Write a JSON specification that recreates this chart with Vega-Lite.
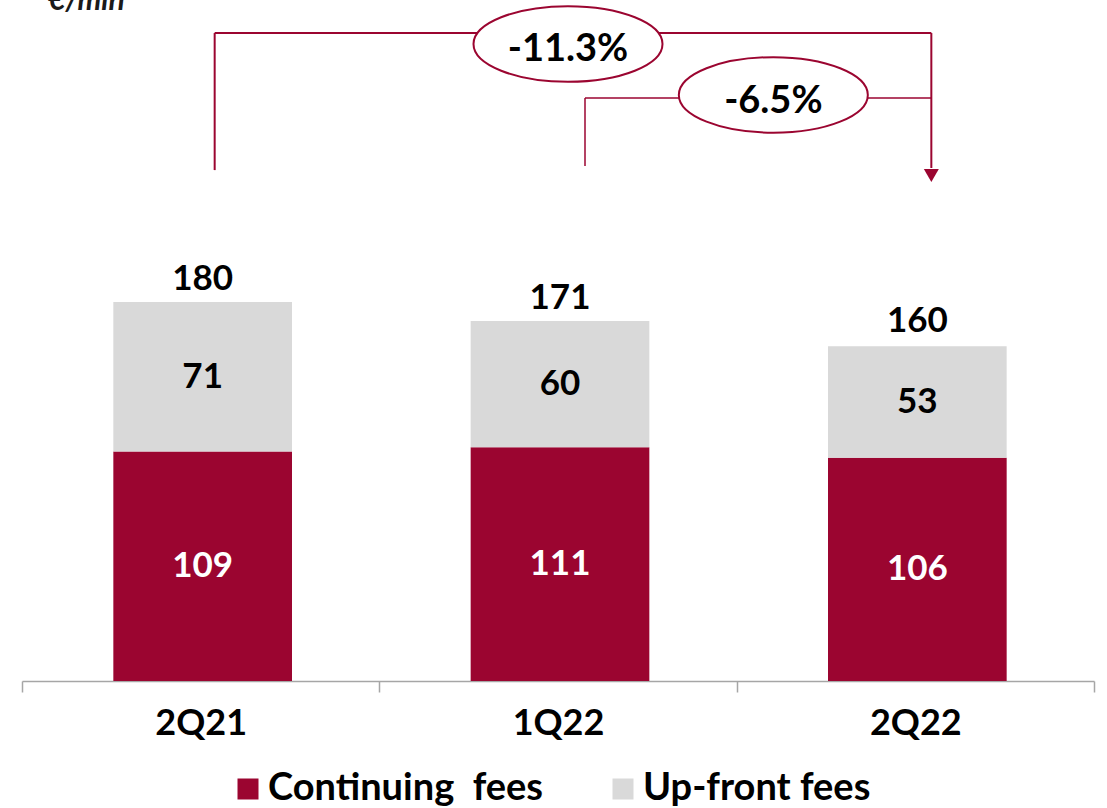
{
  "$schema": "https://vega.github.io/schema/vega-lite/v6.json",
  "autosize": "none",
  "width": 1072,
  "height": 681,
  "padding": {"left": 22, "top": 0, "right": 13, "bottom": 127},
  "background": "white",
  "config": {"view": {"stroke": null}, "font": "Lato"},
  "title": {"text": "€/mln", "anchor": "start", "frame": "group", "orient": "top", "offset": 0, "baseline": "alphabetic", "dx": 26, "dy": 40, "fontSize": 30, "fontStyle": "italic", "fontWeight": "bold", "font": "Lato", "color": "#1a1a1a"},
  "datasets": {
    "fees": [
      {"quarter": "2Q21", "series": "Continuing  fees", "value": 109},
      {"quarter": "2Q21", "series": "Up-front fees", "value": 71},
      {"quarter": "1Q22", "series": "Continuing  fees", "value": 111},
      {"quarter": "1Q22", "series": "Up-front fees", "value": 60},
      {"quarter": "2Q22", "series": "Continuing  fees", "value": 106},
      {"quarter": "2Q22", "series": "Up-front fees", "value": 53}
    ],
    "totals": [
      {"quarter": "2Q21", "total": 180},
      {"quarter": "1Q22", "total": 171},
      {"quarter": "2Q22", "total": 160}
    ],
    "changes": [
      {"from": "2Q21", "to": "2Q22", "label": "-11.3%", "top": 307.8, "low": 242.7, "end": 243.7, "tip": 240.1, "bubble": 302.6},
      {"from": "1Q22", "to": "2Q22", "label": "-6.5%", "top": 277.0, "low": 244.6, "end": 243.7, "tip": 240.1, "bubble": 278.4}
    ]
  },
  "encoding": {
    "x": {
      "field": "quarter", "type": "nominal", "sort": ["2Q21", "1Q22", "2Q22"],
      "scale": {"domain": ["2Q21", "1Q22", "2Q22"], "paddingInner": 0, "paddingOuter": 0},
      "axis": {"title": null, "tickBand": "extent", "domainColor": "#a6a6a6", "tickColor": "#a6a6a6", "tickSize": 11, "domainWidth": 1.5, "tickWidth": 1.5, "labelFontSize": 36, "labelFont": "Lato", "labelFontWeight": "bold", "labelColor": "#000000", "labelPadding": 14, "labelAngle": 0}
    }
  },
  "layer": [
    {
      "data": {"name": "fees"},
      "mark": {"type": "bar", "width": {"band": 0.5}, "xOffset": 2},
      "encoding": {
        "y": {"field": "value", "type": "quantitative", "stack": "zero", "scale": {"domain": [0, 323.5], "nice": false}, "axis": null},
        "color": {"field": "series", "type": "nominal", "scale": {"domain": ["Continuing  fees", "Up-front fees"], "range": ["#9b0530", "#d9d9d9"]},
          "legend": {"title": null, "orient": "none", "direction": "horizontal", "legendX": 207, "legendY": 770, "symbolType": "square", "symbolSize": 441, "symbolStrokeWidth": 0, "labelFontSize": 38, "labelFont": "Lato", "labelFontWeight": "bold", "labelColor": "#000000", "labelOffset": 1, "columnPadding": 60, "labelLimit": 400, "labelExpr": "datum.label === 'Continuing  fees' ? 'Continuing\u00a0 fees' : datum.label"}},
        "order": {"field": "series", "sort": "ascending"}
      }
    },
    {
      "data": {"name": "fees"},
      "transform": [
        {"stack": "value", "groupby": ["quarter"], "sort": [{"field": "series", "order": "ascending"}], "as": ["v0", "v1"]},
        {"calculate": "(datum.v0 + datum.v1) / 2", "as": "mid"}
      ],
      "mark": {"type": "text", "fontSize": 35, "fontWeight": "bold", "font": "Lato", "baseline": "middle", "xOffset": 2},
      "encoding": {
        "y": {"field": "mid", "type": "quantitative"},
        "text": {"field": "value", "type": "quantitative"},
        "color": {"condition": {"test": "datum.series === 'Up-front fees'", "value": "#000000"}, "value": "#ffffff"}
      }
    },
    {
      "data": {"name": "totals"},
      "mark": {"type": "text", "fontSize": 35, "fontWeight": "bold", "font": "Lato", "baseline": "middle", "dy": -23, "xOffset": 2, "color": "#000000"},
      "encoding": {
        "y": {"field": "total", "type": "quantitative"},
        "text": {"field": "total", "type": "quantitative"}
      }
    },
    {
      "data": {"name": "changes"},
      "transform": [{"filter": "datum.from === '2Q21'"}],
      "mark": {"type": "rule", "color": "#9b0530", "strokeWidth": 2, "xOffset": 14},
      "encoding": {"x": {"field": "from"}, "y": {"field": "low", "type": "quantitative"}, "y2": {"field": "top"}}
    },
    {
      "data": {"name": "changes"},
      "transform": [{"filter": "datum.from === '2Q21'"}],
      "mark": {"type": "rule", "color": "#9b0530", "strokeWidth": 2, "xOffset": 14, "x2Offset": 16},
      "encoding": {"x": {"field": "from"}, "x2": {"field": "to"}, "y": {"field": "top", "type": "quantitative"}}
    },
    {
      "data": {"name": "changes"},
      "transform": [{"filter": "datum.from === '2Q21'"}],
      "mark": {"type": "rule", "color": "#9b0530", "strokeWidth": 2, "xOffset": 16},
      "encoding": {"x": {"field": "to"}, "y": {"field": "end", "type": "quantitative"}, "y2": {"field": "top"}}
    },
    {
      "data": {"name": "changes"},
      "transform": [{"filter": "datum.from === '2Q21'"}],
      "mark": {"type": "point", "shape": "triangle-down", "filled": true, "color": "#9b0530", "size": 225, "opacity": 1, "xOffset": 16},
      "encoding": {"x": {"field": "to"}, "y": {"field": "tip", "type": "quantitative"}}
    },
    {
      "data": {"name": "changes"},
      "transform": [{"filter": "datum.from === '1Q22'"}],
      "mark": {"type": "rule", "color": "#9b0530", "strokeWidth": 1.5, "xOffset": 27},
      "encoding": {"x": {"field": "from"}, "y": {"field": "low", "type": "quantitative"}, "y2": {"field": "top"}}
    },
    {
      "data": {"name": "changes"},
      "transform": [{"filter": "datum.from === '1Q22'"}],
      "mark": {"type": "rule", "color": "#9b0530", "strokeWidth": 1.5, "xOffset": 27, "x2Offset": 16},
      "encoding": {"x": {"field": "from"}, "x2": {"field": "to"}, "y": {"field": "top", "type": "quantitative"}}
    },
    {
      "data": {"name": "changes"},
      "transform": [{"filter": "datum.from === '2Q21'"}],
      "layer": [
        {"mark": {"type": "point", "shape": "M-1,0A1,0.4,0,1,1,1,0A1,0.4,0,1,1,-1,0Z", "filled": false, "fill": "#ffffff", "fillOpacity": 1, "stroke": "#9b0530", "strokeWidth": 2, "opacity": 1, "size": 35721, "xOffset": 10}},
        {"mark": {"type": "text", "fontSize": 38, "fontWeight": "bold", "font": "Lato", "color": "#000000", "baseline": "middle", "xOffset": 10, "dy": 6}, "encoding": {"text": {"field": "label"}}}
      ],
      "encoding": {"x": {"field": "from", "datum": "1Q22"}, "y": {"field": "bubble", "type": "quantitative"}}
    },
    {
      "data": {"name": "changes"},
      "transform": [{"filter": "datum.from === '1Q22'"}],
      "layer": [
        {"mark": {"type": "point", "shape": "M-1,0A1,0.4,0,1,1,1,0A1,0.4,0,1,1,-1,0Z", "filled": false, "fill": "#ffffff", "fillOpacity": 1, "stroke": "#9b0530", "strokeWidth": 2, "opacity": 1, "size": 35721, "xOffset": -142}},
        {"mark": {"type": "text", "fontSize": 38, "fontWeight": "bold", "font": "Lato", "color": "#000000", "baseline": "middle", "xOffset": -142, "dy": 7}, "encoding": {"text": {"field": "label"}}}
      ],
      "encoding": {"x": {"field": "to"}, "y": {"field": "bubble", "type": "quantitative"}}
    }
  ]
}
